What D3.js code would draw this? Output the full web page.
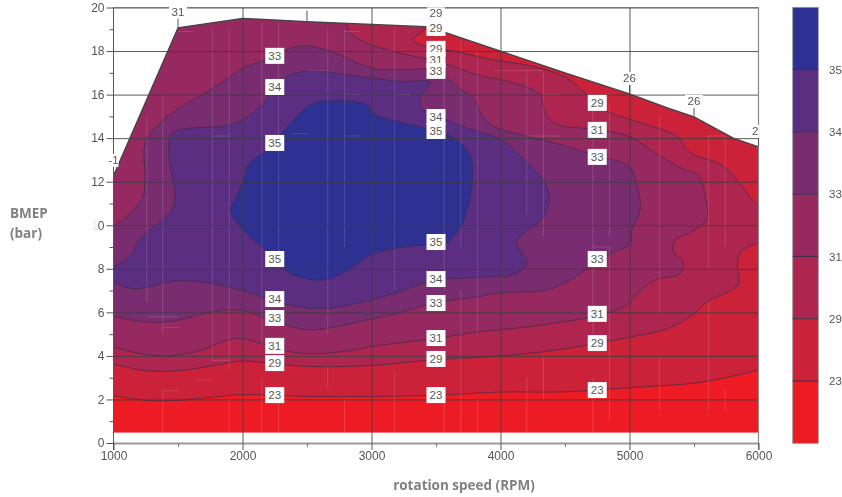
<!DOCTYPE html>
<html>
<meta charset="utf-8">
<style>
html, body { margin: 0; background: #fff; overflow: hidden; }
svg { display: block; filter: blur(.45px); }
text { font-family: "Liberation Sans", sans-serif; fill: #555; }
.title { font: bold 13.5px "Open Sans", sans-serif; fill: #808080; }
</style>
<body>
<script src="https://cdn.jsdelivr.net/npm/d3@7"></script>
<script>

var width = 842, height = 497;

/* full load line of the map, rpm / bar */
var envelope = [[1000,12.27],[1500,19.07],[2000,19.5],[2500,19.35],[3416,19.12],[3500,19],[4000,18],[4500,17],[5000,16.03],[5289,15.4],[5500,14.98],[5804,14],[6000,13.6]];
var floorBar = 0.47;

/* marks sticking out of the load line */
var edgeRpm = [1000, 1500, 2500, 3500, 5000, 5500, 6000];
var edgeLabels = ['-1', '31', '', '29', '26', '26', '26'];

var bandColors = ['#ed1c24', '#cb2239', '#ae2650', '#96295f', '#792d70', '#5b2e82', '#2e3192'];
var bandLabels = ['23', '29', '31', '33', '34', '35'];

/* contours, the outside points only close the shape behind the clip */
var c23 = [[900,2.16],[1000,2.16],[1250,1.96],[1500,1.96],[1775,2.11],[2000,2.22],[2500,2.14],[3000,2.14],[3500,2.19],[4000,2.34],[4500,2.35],[5000,2.54],[5500,2.75],[5700,2.95],[6000,3.36],[6100,3.6],[6100,21],[900,21]];
var c29 = [[900,3.61],[1000,3.61],[1245,3.32],[1504,3.32],[1775,3.56],[2000,3.76],[2248,3.64],[2499,3.52],[3000,3.56],[3481,3.82],[4000,3.99],[4501,4.33],[5000,4.86],[5289,5.24],[5483,5.86],[5599,6.47],[5806,7.08],[5847,7.31],[5837,8.23],[5863,8.76],[6003,9.22],[6100,9.3],[6100,10.8],[6000,10.9],[5806,12.27],[5703,12.8],[5470,13.33],[5367,14.09],[5212,14.47],[5005,14.86],[4824,15.24],[4669,16],[4514,16.76],[4256,17.29],[3946,17.6],[3584,18.05],[3429,18.2],[3320,18.51],[3416,19.04],[3450,20.5],[3400,21],[900,21]];
var c31 = [[900,4.4],[1000,4.4],[1155,4.17],[1388,3.99],[1504,4.05],[1672,4.25],[1891,4.74],[2000,4.79],[2344,4.22],[2550,4.1],[2835,4.25],[3000,4.43],[3481,4.79],[3817,5.09],[4000,5.2],[4385,5.47],[4747,5.86],[4979,6.32],[5031,6.7],[5186,7.46],[5388,7.77],[5419,8.27],[5341,8.76],[5354,9.3],[5496,9.76],[5599,10.29],[5587,11.35],[5535,12.27],[5419,12.57],[5212,13.26],[5005,14.06],[4747,14.4],[4437,14.63],[4346,15.16],[4307,16],[4101,16.53],[3817,16.91],[3558,17.44],[3222,17.9],[3171,17.98],[2938,18.43],[2822,18.96],[2809,19.24],[2800,20.5],[2700,21],[900,21]];
var c33 = [[900,5.81],[1000,5.81],[1155,5.63],[1388,5.55],[1543,5.7],[1775,6.04],[2000,6.09],[2189,5.7],[2499,5.21],[2705,5.32],[3000,5.7],[3183,5.93],[3481,6.42],[3842,6.73],[4000,6.9],[4333,7],[4514,7.39],[4669,8],[4747,8.38],[4876,8.76],[5005,9.14],[5018,9.76],[5083,10.75],[5044,12.12],[4992,12.72],[4747,13.18],[4463,13.71],[4204,14.09],[3946,14.55],[3842,15.16],[3804,15.77],[3661,16.38],[3558,16.91],[3481,17.14],[3222,17.14],[3003,17.21],[2783,17.75],[2654,18.05],[2499,18.23],[2370,18.13],[2248,17.75],[2008,17.21],[1775,16.3],[1517,15.39],[1375,14.78],[1245,13.79],[1245,12.12],[1220,11.2],[1000,9.98],[900,9.98]];
var c34 = [[900,7.34],[1000,7.34],[1129,7.11],[1245,7.13],[1388,7.35],[1517,7.46],[1775,7.31],[2000,7],[2189,6.62],[2344,6.36],[2550,6.18],[2705,6.21],[3000,6.57],[3183,6.88],[3481,7.46],[3842,7.61],[4101,7.74],[4204,8.27],[4127,9.22],[4204,9.76],[4307,10.21],[4380,11.2],[4333,12.04],[4204,12.88],[3997,13.94],[3739,14.47],[3571,14.86],[3390,15.39],[3382,15.92],[3455,16.56],[3222,16.61],[3003,16.76],[2796,16.91],[2550,17.09],[2370,16.91],[2248,16.38],[2163,15.62],[2008,14.86],[1879,14.58],[1465,14.25],[1426,13.49],[1478,11.2],[1439,10.59],[1207,9.38],[1142,8.69],[1000,8.1],[900,8.1]];
var c35 = [[1904,10.75],[2008,12.04],[2047,12.8],[2176,13.41],[2318,14.32],[2525,15.54],[2680,15.74],[2964,15.54],[3016,15.13],[3403,14.47],[3636,14.02],[3765,13.18],[3778,11.81],[3700,9.98],[3661,9.68],[3571,9.14],[3351,9.06],[3016,8.69],[2835,8],[2680,7.54],[2550,7.49],[2370,7.77],[2292,8.23],[2163,8.91],[2008,9.76],[1917,10.44]];
var contours = [c23, c29, c31, c33, c34, c35];

/* boxed contour labels: value, rpm, bar */
var boxes = [
    ['33',2250,17.78],['34',2250,16.35],['35',2250,13.78],['35',2250,8.45],['34',2250,6.61],['33',2250,5.74],['31',2250,4.46],['29',2250,3.67],['23',2250,2.2],
    ['29',3500,19.06],['29',3500,18.1],['31',3500,17.59],['33',3500,17.09],['34',3500,14.97],['35',3500,14.33],['35',3500,9.23],['34',3500,7.53],['33',3500,6.43],['31',3500,4.82],['29',3500,3.86],['23',3500,2.2],
    ['29',4750,15.62],['31',4750,14.38],['33',4750,13.14],['33',4750,8.45],['31',4750,5.93],['29',4750,4.59],['23',4750,2.43]
];

/* the pale seams in the fill: rpm, bar, bar */
var seamsV = [[1258,6.5,15],[1382,.5,2.5],[1382,5,16],[1767,3.8,19],[1897,.5,2],[1897,3.4,19],[2150,.5,3],[2150,4.5,19.3],[2279,.5,2],[2279,8,19.3],[2661,2.5,3.5],[2661,5,19],[2791,.5,2],[2791,9,19],[3178,.5,3.3],[3178,7,19],[3563,.5,2],[3563,7,18.5],[3692,.5,7],[3692,9,18.5],[3822,.5,2],[3822,5,18],[4204,.5,3],[4204,10.5,17],[4333,2,4],[4333,9.5,17],[4716,.5,3],[4716,5,16],[4845,1,9],[4845,9.5,15.5],[5233,1.5,4],[5233,6,15],[5612,1.5,6.5],[5612,8,14.2],[5742,1.5,2.5],[5742,9,14]];
/* rpm, rpm, bar */
var seamsH = [[1258,1510,5.8],[1388,1510,5.3],[1388,1510,2.4],[1640,1767,2.9],[1767,1897,3.8],[1500,1620,18.9],[1767,1897,14.1],[2380,2510,14.2],[2510,2640,17.1],[2791,2910,18.9],[2791,2910,16],[2791,2910,14.1],[3178,3300,16],[3050,3178,18],[3950,4333,17.1],[4333,4460,16],[4204,4460,14.1],[4716,4845,9],[5612,5742,14.1]];

var minorX = [1500, 2500, 3500, 4500, 5500];
var majorX = [1000, 2000, 3000, 4000, 5000, 6000];
var majorY = d3.range(0, 21, 2);
var minorY = d3.range(1, 20, 2);

var x = d3.scaleLinear().domain([1000, 6000]).range([113.5, 758.5]);
var y = d3.scaleLinear().domain([0, 20]).range([443, 7.5]);
var barScale = d3.scaleBand().domain(d3.range(bandColors.length)).range([443.3, 7.3]);

var svg = d3.select("body").append("svg")
    .attr("width", width)
    .attr("height", height);

var envelopeLine = d3.line().x(function(d){return x(d[0])}).y(function(d){return y(d[1])});
var contourLine = d3.line().x(function(d){return x(d[0])}).y(function(d){return y(d[1])})
    .curve(d3.curveCatmullRom.alpha(0.5));
var envelopeShape = envelope.concat([[6000, floorBar], [1000, floorBar]]);

svg.append("clipPath").attr("id", "map")
    .append("path").attr("d", envelopeLine(envelopeShape) + "Z");
svg.append("clipPath").attr("id", "plot")
    .append("rect").attr("x", 90).attr("y", 0).attr("width", x(6000) + .5 - 90).attr("height", height);

/* fill */
var map = svg.append("g").attr("clip-path", "url(#map)");
map.append("path").attr("d", envelopeLine(envelopeShape) + "Z").attr("fill", bandColors[0]);
map.selectAll("path.band").data(contours).enter().append("path")
    .attr("class", "band")
    .attr("d", function(d){return contourLine(d) + "Z"})
    .attr("fill", function(d, i){return bandColors[i + 1]})
    .attr("stroke", "#3c2c48")
    .attr("stroke-opacity", .8)
    .attr("stroke-width", .9);

map.selectAll("line.sv").data(seamsV).enter().append("line")
    .attr("class", "sv")
    .attr("x1", function(d){return x(d[0])}).attr("x2", function(d){return x(d[0])})
    .attr("y1", function(d){return y(d[1])}).attr("y2", function(d){return y(d[2])})
    .attr("stroke", "#fff").attr("stroke-opacity", .14);
map.selectAll("line.sh").data(seamsH).enter().append("line")
    .attr("class", "sh")
    .attr("x1", function(d){return x(d[0])}).attr("x2", function(d){return x(d[1])})
    .attr("y1", function(d){return y(d[2])}).attr("y2", function(d){return y(d[2])})
    .attr("stroke", "#fff").attr("stroke-opacity", .14);

/* grid, drawn with the axes so it runs out into the ticks */
var gridY = svg.append("g").attr("transform", "translate(" + x(1000) + ",0)")
    .call(d3.axisLeft(y).tickValues(majorY.slice(1)).tickSize(-(x(6000) - x(1000))).tickFormat(""));
var gridX = svg.append("g").attr("transform", "translate(0," + y(0) + ")")
    .call(d3.axisBottom(x).tickValues(majorX.slice(1, 5)).tickSize(y(20) - y(0)).tickFormat(""));
[gridY, gridX].forEach(function(g) {
    g.select(".domain").remove();
    g.selectAll("line").attr("stroke", "#3d3d3d").attr("stroke-opacity", .85);
});

/* load line on top of the grid */
svg.append("path")
    .attr("d", envelopeLine(envelope))
    .attr("fill", "none")
    .attr("stroke", "#444")
    .attr("stroke-width", 1.3);

/* frame and axes */
svg.append("line").attr("x1", x(1000)).attr("x2", x(6000)).attr("y1", y(20)).attr("y2", y(20))
    .attr("stroke", "#777").attr("stroke-width", 1);
svg.append("line").attr("x1", x(6000)).attr("x2", x(6000)).attr("y1", y(20)).attr("y2", y(0) + 7)
    .attr("stroke", "#888").attr("stroke-width", 1.2);
svg.append("line").attr("x1", x(1000)).attr("x2", x(1000)).attr("y1", y(20)).attr("y2", y(0) + 7)
    .attr("stroke", "#555").attr("stroke-width", 1);

var axisX = svg.append("g").attr("transform", "translate(0," + y(0) + ")")
    .call(d3.axisBottom(x).tickValues(majorX).tickSize(7).tickSizeOuter(0).tickPadding(1).tickFormat(d3.format("d")));
axisX.select(".domain").attr("stroke", "#999").attr("stroke-width", 1.8);
axisX.selectAll("line").attr("stroke", "#555");
axisX.selectAll("text").style("font-size", "12px").attr("fill", "#555");
var axisXMinor = svg.append("g").attr("transform", "translate(0," + y(0) + ")")
    .call(d3.axisBottom(x).tickValues(minorX).tickSize(4).tickFormat(""));
axisXMinor.select(".domain").remove();
axisXMinor.selectAll("line").attr("stroke", "#777");

var axisY = svg.append("g").attr("transform", "translate(" + x(1000) + ",0)")
    .call(d3.axisLeft(y).tickValues(majorY).tickSize(7).tickSizeOuter(0).tickPadding(2).tickFormat(d3.format("d")));
axisY.select(".domain").remove();
axisY.selectAll("line").attr("stroke", "#555");
axisY.selectAll("text").style("font-size", "12px").attr("fill", "#555");
/* the first digit of 10 is almost gone in the original */
axisY.selectAll("text").filter(function(d){return d == 10}).text(null)
    .call(function(t) {
        t.append("tspan").attr("fill-opacity", .15).text("1");
        t.append("tspan").text("0");
    });
var axisYMinor = svg.append("g").attr("transform", "translate(" + x(1000) + ",0)")
    .call(d3.axisLeft(y).tickValues(minorY).tickSize(4).tickFormat(""));
axisYMinor.select(".domain").remove();
axisYMinor.selectAll("line").attr("stroke", "#555");

/* marks on the load line */
function edgeBar(rpm) {
    for (var i = 1; i < envelope.length; i++) {
        if (rpm <= envelope[i][0]) {
            var a = envelope[i - 1], b = envelope[i];
            return a[1] + (b[1] - a[1]) * (rpm - a[0]) / (b[0] - a[0]);
        }
    }
    return envelope[envelope.length - 1][1];
}
var edge = svg.append("g").attr("clip-path", "url(#plot)");
edgeRpm.forEach(function(rpm, i) {
    var px = x(rpm), py = y(edgeBar(rpm));
    edge.append("line").attr("x1", px).attr("x2", px).attr("y1", py).attr("y2", py - 11)
        .attr("stroke", "#555");
    if (!edgeLabels[i]) return;
    var half = edgeLabels[i] == '-1' ? 5 : 9;
    edge.append("rect").attr("x", px - half).attr("y", py - 22).attr("width", half * 2).attr("height", 13).attr("fill", "#fff");
    edge.append("text").attr("x", px).attr("y", py - 16).attr("dy", "0.35em")
        .attr("text-anchor", "middle").style("font-size", "11.5px").text(edgeLabels[i]);
});

/* boxed labels, later ones cover earlier ones */
var box = svg.selectAll("g.box").data(boxes).enter().append("g")
    .attr("class", "box")
    .attr("transform", function(d){return "translate(" + x(d[1]) + "," + y(d[2]) + ")"});
box.append("rect").attr("x", -9.5).attr("y", -8).attr("width", 19).attr("height", 16).attr("fill", "#fff");
box.append("text").attr("text-anchor", "middle").attr("dy", "0.36em")
    .style("font-size", "11.5px").text(function(d){return d[0]});

/* colour bar */
svg.selectAll("rect.key").data(bandColors).enter().append("rect")
    .attr("class", "key")
    .attr("x", 792.7).attr("width", 25.6)
    .attr("y", function(d, i){return barScale(i) - barScale.bandwidth() + barScale.bandwidth()})
    .attr("height", barScale.bandwidth())
    .attr("fill", function(d){return d});
svg.append("rect").attr("x", 792.7).attr("y", 7.3).attr("width", 25.6).attr("height", 436)
    .attr("fill", "none").attr("stroke", "#999").attr("stroke-width", .8);
svg.selectAll("line.key").data(bandLabels).enter().append("line")
    .attr("class", "key")
    .attr("x1", 792.7).attr("x2", 818.3)
    .attr("y1", function(d, i){return barScale(i)})
    .attr("y2", function(d, i){return barScale(i)})
    .attr("stroke", "#3c2c48");
svg.selectAll("text.key").data(bandLabels).enter().append("text")
    .attr("class", "key")
    .attr("x", 829)
    .attr("y", function(d, i){return barScale(i)})
    .attr("dy", "0.36em")
    .style("font-size", "11.5px")
    .text(function(d){return d});

/* titles */
svg.append("text").attr("class", "title").attr("x", 10).attr("y", 218).text("BMEP");
svg.append("text").attr("class", "title").attr("x", 10).attr("y", 238).text("(bar)");
svg.append("text").attr("class", "title").attr("x", 464).attr("y", 490).attr("text-anchor", "middle").text("rotation speed (RPM)");

</script>
</body>
</html>
